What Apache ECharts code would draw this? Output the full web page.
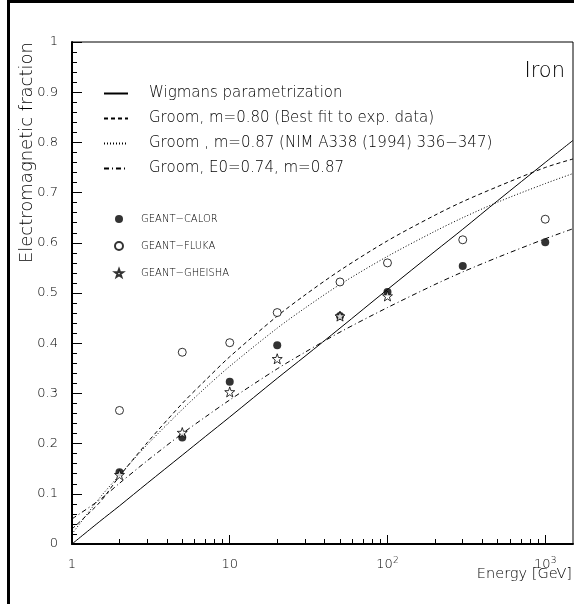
<!DOCTYPE html>
<html>
<head>
<meta charset="utf-8">
<script src="https://cdn.jsdelivr.net/npm/echarts@6/dist/echarts.min.js"></script>
<style>
  html, body { margin: 0; padding: 0; background: #fff; }
  #chart { width: 574px; height: 604px; }
</style>
</head>
<body>
<div id="chart"></div>
<script>
// simulation points (energy in GeV)
var simE = [2, 5, 10, 20, 50, 100, 300, 1000];
var calor = [0.143, 0.212, 0.323, 0.396, 0.454, 0.502, 0.554, 0.601];
var fluka = [0.266, 0.382, 0.401, 0.461, 0.522, 0.560, 0.606, 0.647];
var gheishaE = [2, 5, 10, 20, 50, 100];
var gheisha = [0.138, 0.222, 0.303, 0.369, 0.454, 0.494];

// curves, read along the energy grid
var curveE = [1, 1.5, 2, 3, 5, 7, 10, 20, 30, 50, 100, 200, 300, 500, 1000, 1500];
var wigmans = [0, 0.045, 0.076, 0.121, 0.177, 0.214, 0.253, 0.330, 0.374, 0.430, 0.507, 0.583, 0.627, 0.684, 0.760, 0.804];
var groom80 = [0.03, 0.083, 0.135, 0.202, 0.280, 0.326, 0.373, 0.454, 0.496, 0.545, 0.604, 0.655, 0.682, 0.712, 0.750, 0.767];
var groom87 = [0.02, 0.092, 0.137, 0.198, 0.268, 0.311, 0.354, 0.430, 0.470, 0.517, 0.573, 0.623, 0.650, 0.681, 0.718, 0.738];
var groomE0 = [0.05, 0.088, 0.121, 0.166, 0.220, 0.253, 0.287, 0.349, 0.382, 0.422, 0.471, 0.517, 0.542, 0.571, 0.608, 0.628];

var xMajor = [1, 10, 100, 1000];
var xMinor = [2, 3, 4, 5, 6, 7, 8, 9, 20, 30, 40, 50, 60, 70, 80, 90, 200, 300, 400, 500, 600, 700, 800, 900];

var lineNames = [
  'Wigmans parametrization',
  'Groom, m=0.80 (Best fit to exp. data)',
  'Groom , m=0.87 (NIM A338 (1994) 336\u2212347)',
  'Groom, E0=0.74, m=0.87'
];
var pointNames = ['GEANT\u2212CALOR', 'GEANT\u2212FLUKA', 'GEANT\u2212GHEISHA'];

var FONT = 'DejaVu Sans';
var FW = 200;
var INK = '#000';
var starPath = 'path://M0,-10L2.35,-3.24L9.51,-3.09L3.8,1.24L5.88,8.09L0,4.2L-5.88,8.09L-3.8,1.24L-9.51,-3.09L-2.35,-3.24Z';

function pairs(xs, ys) {
  return xs.map(function (x, i) { return [x, ys[i]]; });
}

function curve(name, ys, dash) {
  return {
    name: name,
    type: 'line',
    data: pairs(curveE, ys),
    symbol: 'none',
    smooth: 0.3,
    lineStyle: { color: '#000', width: 1, type: dash },
    itemStyle: { color: '#000' },
    z: 2
  };
}

var myChart = echarts.init(document.getElementById('chart'));
myChart.setOption({
  animation: false,
  backgroundColor: '#fff',
  grid: { left: 72, top: 42, right: 1, bottom: 60, show: true, borderColor: '#000', borderWidth: 1 },
  xAxis: [
    {
      type: 'log',
      logBase: 10,
      min: 1,
      max: 1500,
      axisLine: { lineStyle: { color: '#000', width: 2 } },
      axisTick: { inside: true, length: 9, customValues: xMajor, lineStyle: { color: '#000' } },
      axisLabel: {
        customValues: xMajor,
        margin: 12,
        color: INK,
        fontFamily: FONT,
        fontWeight: FW,
        fontSize: 13,
        lineHeight: 18,
        formatter: function (v) {
          if (Math.abs(v - 1) < 1e-6) return '1';
          if (Math.abs(v - 10) < 1e-6) return '10';
          return '10{s|' + Math.round(Math.log10(v)) + '}';
        },
        rich: { s: { fontSize: 9, lineHeight: 9, verticalAlign: 'top', fontFamily: FONT, fontWeight: FW, color: INK } }
      },
      splitLine: { show: false }
    },
    {
      type: 'log',
      logBase: 10,
      min: 1,
      max: 1500,
      position: 'bottom',
      axisLine: { show: false },
      axisTick: { inside: true, length: 5, customValues: xMinor, lineStyle: { color: '#000' } },
      axisLabel: { show: false },
      splitLine: { show: false }
    }
  ],
  yAxis: {
    type: 'value',
    min: 0,
    max: 1,
    interval: 0.1,
    axisLine: { show: true, lineStyle: { color: '#000', width: 2 } },
    axisTick: { show: true, inside: true, length: 10, lineStyle: { color: '#000' } },
    minorTick: { show: true, splitNumber: 5, length: 5, lineStyle: { color: '#000' } },
    axisLabel: { margin: 14, color: INK, fontFamily: FONT, fontWeight: FW, fontSize: 13 },
    splitLine: { show: false }
  },
  legend: [
    {
      data: lineNames,
      orient: 'vertical',
      left: 103,
      top: 86,
      padding: 0,
      itemWidth: 24,
      itemHeight: 14,
      itemGap: 10,
      selectedMode: false,
      itemStyle: { opacity: 0 },
      textStyle: { fontFamily: FONT, fontWeight: FW, fontSize: 15, lineHeight: 14, color: INK, padding: [0, 0, 0, 16] }
    },
    {
      data: pointNames,
      orient: 'vertical',
      left: 114,
      top: 214,
      padding: 0,
      itemWidth: 8,
      itemHeight: 8,
      itemGap: 17,
      selectedMode: false,
      textStyle: { fontFamily: FONT, fontWeight: FW, fontSize: 10, lineHeight: 8, color: INK, padding: [0, 0, 0, 13] }
    }
  ],
  graphic: [
    {
      type: 'rect',
      shape: { x: 8.5, y: 1.5, width: 700, height: 800 },
      style: { fill: 'none', stroke: '#000', lineWidth: 3 },
      silent: true
    },
    {
      type: 'text',
      x: 565, y: 72,
      style: { text: 'Iron', fontFamily: FONT, fontWeight: FW, fontSize: 21, fill: INK, textAlign: 'right', textVerticalAlign: 'middle' }
    },
    {
      type: 'text',
      x: 572, y: 574,
      style: { text: 'Energy [GeV]', fontFamily: FONT, fontWeight: FW, fontSize: 14.5, fill: INK, textAlign: 'right', textVerticalAlign: 'middle' }
    },
    {
      type: 'text',
      x: 27, y: 42,
      rotation: Math.PI / 2,
      style: { text: 'Electromagnetic fraction', fontFamily: FONT, fontWeight: FW, fontSize: 18, fill: INK, textAlign: 'right', textVerticalAlign: 'middle' }
    }
  ],
  series: [
    curve(lineNames[0], wigmans, 'solid'),
    curve(lineNames[1], groom80, [4, 3]),
    curve(lineNames[2], groom87, [1, 2]),
    curve(lineNames[3], groomE0, [5, 3, 1, 3]),
    {
      name: pointNames[0],
      type: 'scatter',
      data: pairs(simE, calor),
      symbol: 'circle',
      symbolSize: 8,
      itemStyle: { color: '#000' },
      z: 4
    },
    {
      name: pointNames[1],
      type: 'scatter',
      data: pairs(simE, fluka),
      symbol: 'circle',
      symbolSize: 8,
      itemStyle: { color: '#fff', borderColor: '#000', borderWidth: 1 },
      z: 4
    },
    {
      name: pointNames[2],
      type: 'scatter',
      data: pairs(gheishaE, gheisha),
      symbol: starPath,
      symbolSize: 10,
      itemStyle: { color: '#fff', borderColor: '#000', borderWidth: 1 },
      z: 5
    }
  ]
});
</script>
</body>
</html>
